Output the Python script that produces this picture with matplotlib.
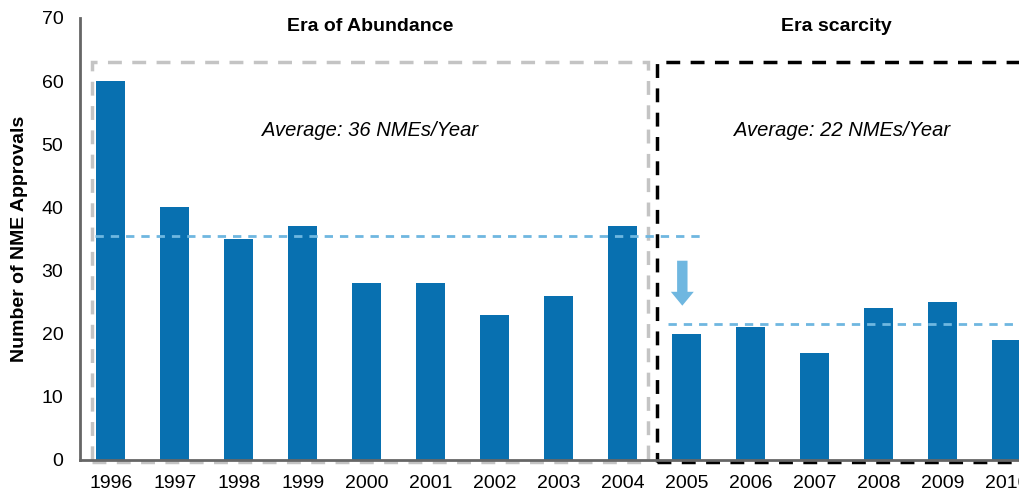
import matplotlib
matplotlib.use("Agg")
import matplotlib.pyplot as plt
from matplotlib.patches import Rectangle

plt.rcParams['font.family'] = ['Liberation Sans', 'DejaVu Sans']

years = ['1996', '1997', '1998', '1999', '2000', '2001', '2002', '2003', '2004',
         '2005', '2006', '2007', '2008', '2009', '2010']
approvals = [60, 40, 35, 37, 28, 28, 23, 26, 37, 20, 21, 17, 24, 25, 19]
avg_abundance = 35.5
avg_scarcity = 21.5
eras = ['Era of Abundance', 'Era scarcity']
avg_labels = ['Average: 36 NMEs/Year', 'Average: 22 NMEs/Year']

fig = plt.figure(figsize=(10.19, 4.91), dpi=100)
ax = fig.add_axes([80/1019, 1 - 460/491, 1 - 80/1019, (460-18)/491])

x = list(range(len(years)))
ax.bar(x, approvals, width=0.45, color='#0870B0', zorder=3)

ax.set_xlim(-0.48, 14.19)
ax.set_ylim(0, 70)
ax.set_yticks(range(0, 71, 10))
ax.set_xticks(x)
ax.set_xticklabels(years)
ax.tick_params(length=0, labelsize=14)
ax.tick_params(axis='x', pad=11)
ax.tick_params(axis='y', pad=12)
for s in ['top', 'right']:
    ax.spines[s].set_visible(False)
for s in ['left', 'bottom']:
    ax.spines[s].set_color('#666666')
    ax.spines[s].set_linewidth(2)
    ax.spines[s].set_zorder(5)
ax.set_ylabel('Number of NME Approvals', fontsize=14, fontweight='bold', labelpad=10)

# era boxes
ax.add_patch(Rectangle((-0.30, -0.3), 8.69, 63.3, fill=False, ec='#C4C4C4', lw=2.5,
                       ls=(0, (4, 3)), clip_on=False, zorder=4))
ax.add_patch(Rectangle((8.53, -0.3), 6.5, 63.3, fill=False, ec='black', lw=2.5,
                       ls=(0, (4, 3)), clip_on=False, zorder=4))

# averages
ax.plot([-0.25, 9.2], [avg_abundance, avg_abundance], ls=(0, (3, 2.5)), color='#6FB7E0', lw=2, zorder=4)
ax.plot([8.7, 14.19], [avg_scarcity, avg_scarcity], ls=(0, (3, 2.5)), color='#6FB7E0', lw=2, zorder=4)
ax.annotate('', xy=(8.93, 24.0), xytext=(8.93, 32.0),
            arrowprops=dict(arrowstyle='simple,head_width=1.65,head_length=1.0,tail_width=0.75',
                            color='#6FB7E0', lw=0))

ax.text(4.05, 68.7, eras[0], ha='center', va='center', fontsize=14, fontweight='bold')
ax.text(11.33, 68.7, eras[1], ha='center', va='center', fontsize=14, fontweight='bold')
ax.text(4.05, 52.2, avg_labels[0], ha='center', va='center', fontsize=14.5, style='italic')
ax.text(11.43, 52.2, avg_labels[1], ha='center', va='center', fontsize=14.5, style='italic')

fig.savefig('out.png', dpi=100)
